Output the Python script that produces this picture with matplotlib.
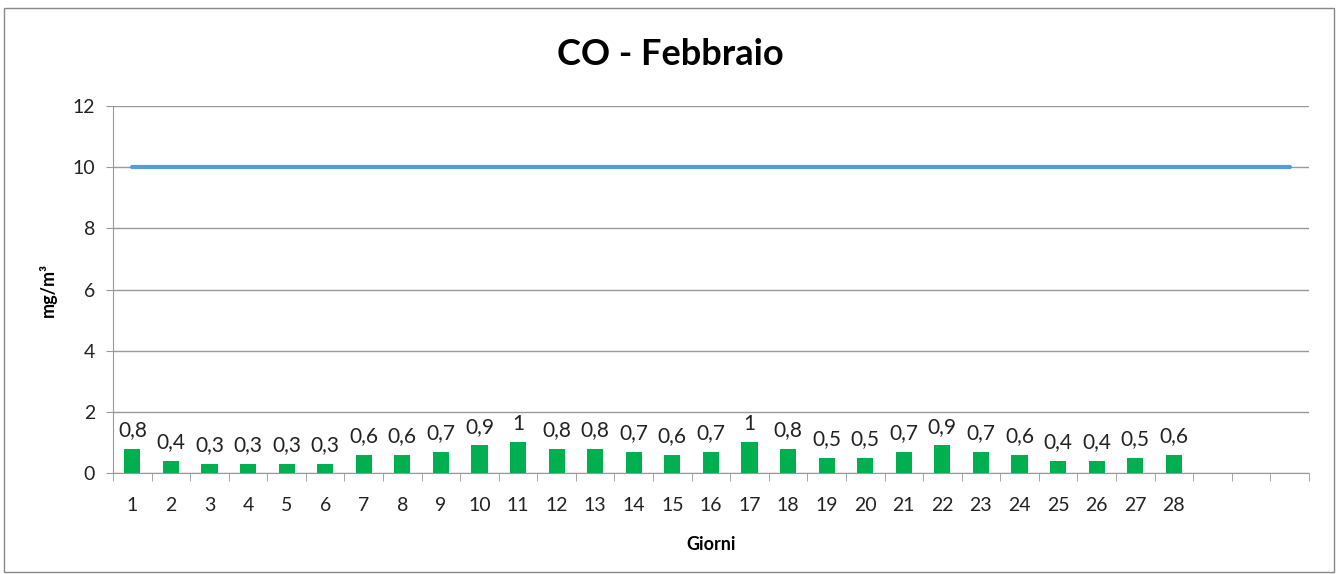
import matplotlib
matplotlib.use("Agg")
import matplotlib.pyplot as plt
from matplotlib.patches import Rectangle
import numpy as np

plt.rcParams['font.family'] = ['Lato', 'DejaVu Sans']

days = [str(i) for i in range(1, 29)] + ["", "", ""]
values = [0.8, 0.4, 0.3, 0.3, 0.3, 0.3, 0.6, 0.6, 0.7, 0.9, 1, 0.8, 0.8, 0.7,
          0.6, 0.7, 1, 0.8, 0.5, 0.5, 0.7, 0.9, 0.7, 0.6, 0.4, 0.4, 0.5, 0.6]
limit = [10] * 31
title = "CO - Febbraio"

fig = plt.figure(figsize=(13.41, 5.74), dpi=100)
fig.patches.append(Rectangle((0.003, 0.004), 0.992, 0.982, transform=fig.transFigure,
                             fill=False, edgecolor='#888888', linewidth=1))
ax = fig.add_axes([0.0843, 0.176, 0.8917, 0.639])

n = len(days)
x = np.arange(n)
xb = np.arange(len(values))
ax.bar(xb, values, width=0.42, color='#00B050', zorder=3)
ax.plot(x, limit, color='#5B9BD5', linewidth=3, zorder=4, solid_capstyle='round')

for xi, v in zip(xb, values):
    ax.text(xi, v + 0.28, f"{v:g}".replace('.', ','), ha='center', va='bottom',
            fontsize=15, color='#222222')

ax.set_xlim(-0.5, n - 0.5)
ax.set_ylim(0, 12)
ax.set_yticks(range(0, 13, 2))
ax.set_xticks(x)
ax.set_xticklabels(days, fontsize=14, color='#222222')
ax.set_xticks(np.arange(-0.5, n, 1), minor=True)
ax.tick_params(axis='x', which='major', length=0, pad=17)
ax.tick_params(axis='x', which='minor', length=6, color='#999999', direction='out')
ax.tick_params(axis='y', labelsize=14, labelcolor='#222222', length=5, color='#999999', pad=8)
ax.yaxis.grid(True, color='#999999', linewidth=1)
ax.set_axisbelow(True)
for s in ['top', 'right']:
    ax.spines[s].set_visible(False)
ax.spines['left'].set_color('#999999')
ax.spines['bottom'].set_color('#999999')

ax.set_xlabel("Giorni", fontsize=13, fontweight='bold', labelpad=16)
ax.set_ylabel("mg/m³", fontsize=13, fontweight='bold', labelpad=11)
fig.text(0.5, 0.905, title, ha='center', va='center', fontsize=26, fontweight='bold')

fig.savefig("out.png", dpi=100)
